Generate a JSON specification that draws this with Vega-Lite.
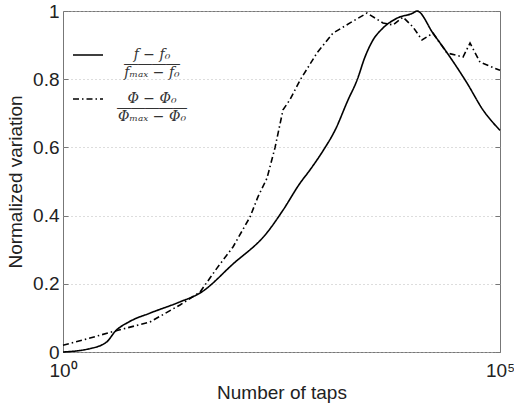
{
  "$schema": "https://vega.github.io/schema/vega-lite/v6.json",
  "width": 437,
  "height": 341,
  "autosize": {"type": "none"},
  "padding": {"left": 63, "top": 11, "right": 14, "bottom": 52},
  "background": "white",
  "config": {
    "view": {"stroke": "#777", "strokeWidth": 1},
    "font": "Liberation Sans",
    "style": {"guide-label": {"lineHeight": 9}},
    "axis": {
      "labelFont": "Liberation Sans",
      "titleFont": "Liberation Sans",
      "labelColor": "#222",
      "titleColor": "#222",
      "labelFontSize": 19,
      "titleFontSize": 19,
      "titleFontWeight": "normal",
      "domain": false,
      "tickColor": "#777",
      "tickSize": -5
    }
  },
  "datasets": {
    "f": [
      {"taps": 1, "value": 0, "series": "f"},
      {"taps": 2.04, "value": 0.01, "series": "f"},
      {"taps": 3.18, "value": 0.03, "series": "f"},
      {"taps": 3.94, "value": 0.06, "series": "f"},
      {"taps": 5.85, "value": 0.09, "series": "f"},
      {"taps": 9.89, "value": 0.114, "series": "f"},
      {"taps": 21.8, "value": 0.147, "series": "f"},
      {"taps": 37, "value": 0.173, "series": "f"},
      {"taps": 88, "value": 0.258, "series": "f"},
      {"taps": 216, "value": 0.35, "series": "f"},
      {"taps": 329, "value": 0.416, "series": "f"},
      {"taps": 515, "value": 0.495, "series": "f"},
      {"taps": 670, "value": 0.534, "series": "f"},
      {"taps": 944, "value": 0.59, "series": "f"},
      {"taps": 1294, "value": 0.65, "series": "f"},
      {"taps": 1824, "value": 0.739, "series": "f"},
      {"taps": 2312, "value": 0.797, "series": "f"},
      {"taps": 2851, "value": 0.865, "series": "f"},
      {"taps": 3524, "value": 0.915, "series": "f"},
      {"taps": 4581, "value": 0.95, "series": "f"},
      {"taps": 6637, "value": 0.979, "series": "f"},
      {"taps": 10116, "value": 0.994, "series": "f"},
      {"taps": 11220, "value": 1.0, "series": "f"},
      {"taps": 17100, "value": 0.935, "series": "f"},
      {"taps": 26792, "value": 0.865, "series": "f"},
      {"taps": 41879, "value": 0.789, "series": "f"},
      {"taps": 63826, "value": 0.71, "series": "f"},
      {"taps": 100000, "value": 0.65, "series": "f"}
    ],
    "phi": [
      {"taps": 1, "value": 0.02, "series": "phi"},
      {"taps": 1.69, "value": 0.035, "series": "phi"},
      {"taps": 3.73, "value": 0.06, "series": "phi"},
      {"taps": 9.89, "value": 0.088, "series": "phi"},
      {"taps": 21.8, "value": 0.138, "series": "phi"},
      {"taps": 37, "value": 0.176, "series": "phi"},
      {"taps": 57.8, "value": 0.246, "series": "phi"},
      {"taps": 88.1, "value": 0.308, "series": "phi"},
      {"taps": 138, "value": 0.396, "series": "phi"},
      {"taps": 170, "value": 0.455, "series": "phi"},
      {"taps": 216, "value": 0.51, "series": "phi"},
      {"taps": 267, "value": 0.6, "series": "phi"},
      {"taps": 329, "value": 0.71, "series": "phi"},
      {"taps": 395, "value": 0.74, "series": "phi"},
      {"taps": 515, "value": 0.797, "series": "phi"},
      {"taps": 805, "value": 0.877, "series": "phi"},
      {"taps": 1227, "value": 0.935, "series": "phi"},
      {"taps": 1923, "value": 0.965, "series": "phi"},
      {"taps": 3006, "value": 0.994, "series": "phi"},
      {"taps": 4581, "value": 0.965, "series": "phi"},
      {"taps": 5970, "value": 0.959, "series": "phi"},
      {"taps": 7762, "value": 0.982, "series": "phi"},
      {"taps": 10116, "value": 0.953, "series": "phi"},
      {"taps": 12823, "value": 0.915, "series": "phi"},
      {"taps": 17100, "value": 0.935, "series": "phi"},
      {"taps": 24774, "value": 0.877, "series": "phi"},
      {"taps": 37757, "value": 0.865, "series": "phi"},
      {"taps": 45394, "value": 0.906, "series": "phi"},
      {"taps": 59020, "value": 0.85, "series": "phi"},
      {"taps": 100000, "value": 0.826, "series": "phi"}
    ]
  },
  "resolve": {"axis": {"y": "independent"}},
  "layer": [
    {
      "data": {"name": "f"},
      "mark": {"type": "line", "interpolate": "monotone", "color": "black", "strokeWidth": 1.6},
      "encoding": {
        "x": {
          "field": "taps", "type": "quantitative",
          "scale": {"type": "log", "domain": [1, 100000], "nice": false},
          "axis": {
            "title": "Number of taps", "values": [1, 100000], "grid": false,
            "labelExpr": "datum.value == 1 ? '10⁰' : '10⁵'",
            "labelPadding": 14, "titleY": 40, "titleBaseline": "middle",
            "labelFlush": false
          }
        },
        "y": {
          "field": "value", "type": "quantitative",
          "scale": {"domain": [0, 1], "nice": false},
          "axis": {
            "title": "Normalized variation", "values": [0, 0.2, 0.4, 0.6, 0.8, 1],
            "format": "~g", "grid": true, "gridDash": [1, 3], "gridColor": "#bbb",
            "labelPadding": 9, "titleX": -48, "titleBaseline": "middle"
          }
        },
        "strokeDash": {
          "field": "series", "type": "nominal",
          "scale": {"domain": ["f", "phi"], "range": [[1, 0], [6, 3, 1.5, 3]]},
          "legend": {
            "title": null, "orient": "none", "legendX": 9, "legendY": 28,
            "symbolType": "stroke", "symbolSize": 900, "symbolStrokeWidth": 1.6,
            "symbolStrokeColor": "black", "padding": 0,
            "labelFont": "DejaVu Serif", "labelFontStyle": "italic", "labelFontSize": 14,
            "labelColor": "#333", "labelAlign": "center", "labelOffset": 48,
            "labelLimit": 200, "rowPadding": 3,
            "labelExpr": "datum.value == 'f' ? ['f − f₀', '――――', 'fₘₐₓ − f₀'] : ['Φ − Φ₀', '―――――', 'Φₘₐₓ − Φ₀']"
          }
        }
      }
    },
    {
      "data": {"name": "phi"},
      "mark": {"type": "line", "color": "black", "strokeWidth": 1.6},
      "encoding": {
        "x": {"field": "taps", "type": "quantitative", "scale": {"type": "log", "domain": [1, 100000], "nice": false}},
        "y": {"field": "value", "type": "quantitative", "scale": {"domain": [0, 1], "nice": false}, "axis": null},
        "strokeDash": {"field": "series", "type": "nominal"}
      }
    },
    {
      "data": {"name": "f"},
      "mark": {"type": "line", "opacity": 0},
      "encoding": {
        "x": {"field": "taps", "type": "quantitative", "scale": {"type": "log", "domain": [1, 100000], "nice": false}},
        "y": {
          "field": "value", "type": "quantitative", "scale": {"domain": [0, 1], "nice": false},
          "axis": {"orient": "right", "title": null, "labels": false, "grid": false, "values": [0, 0.2, 0.4, 0.6, 0.8, 1]}
        }
      }
    }
  ]
}
